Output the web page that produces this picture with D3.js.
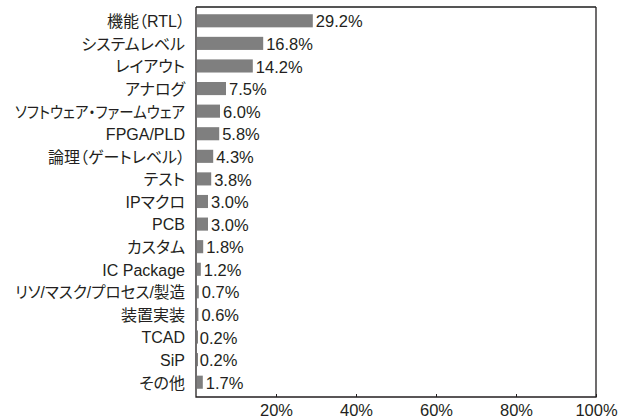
<!DOCTYPE html>
<html>
<head>
<meta charset="utf-8">
<script src="https://cdn.jsdelivr.net/npm/d3@7"></script>
<style>
  body { margin: 0; background: #fff; }
  svg text { font-family: "Liberation Sans", Arial, "Noto Sans CJK JP", sans-serif; fill: #231f20; }
  svg text.cat { font-feature-settings: "palt" 1; }
</style>
</head>
<body>
<svg id="chart" width="631" height="418"></svg>
<script>
/* Data */
var categories = ["機能（RTL）", "システムレベル", "レイアウト", "アナログ", "ソフトウェア・ファームウェア",
  "FPGA/PLD", "論理（ゲートレベル）", "テスト", "IPマクロ", "PCB", "カスタム", "IC Package",
  "リソ/マスク/プロセス/製造", "装置実装", "TCAD", "SiP", "その他"];
var values = [29.2, 16.8, 14.2, 7.5, 6.0, 5.8, 4.3, 3.8, 3.0, 3.0, 1.8, 1.2, 0.7, 0.6, 0.2, 0.2, 1.7];
var tickValues = [20, 40, 60, 80, 100];

/* Layout */
var frame = { left: 196, right: 596, top: 7, bottom: 397 };
var labelRight = 185, labelMaxWidth = 170;
var svg = d3.select("svg#chart");

var x = d3.scaleLinear().domain([0, 100]).range([frame.left, frame.right]);
var y = d3.scaleBand()
  .domain(categories)
  .range([9.5, 393.5])
  .paddingInner(0.42)
  .paddingOuter(0.21);

var data = categories.map((c, i) => ({ name: c, value: values[i] }));

/* bars */
svg.selectAll(".bar")
  .data(data)
  .enter()
  .append("rect")
  .attr("class", "bar")
  .attr("x", x(0) + 1)
  .attr("y", d => y(d.name))
  .attr("width", d => Math.max(1, x(d.value) - x(0) - 1))
  .attr("height", y.bandwidth())
  .attr("fill", "#7f7f7f");

/* value labels */
svg.selectAll(".val")
  .data(data)
  .enter()
  .append("text")
  .attr("class", "val")
  .attr("x", d => x(d.value) + 3)
  .attr("y", d => y(d.name) + y.bandwidth() / 2)
  .attr("dy", "0.4em")
  .style("font-size", "16.5px")
  .text(d => d.value.toFixed(1) + "%");

/* category labels */
svg.selectAll(".cat")
  .data(data)
  .enter()
  .append("text")
  .attr("class", "cat")
  .attr("x", labelRight)
  .attr("y", d => y(d.name) + y.bandwidth() / 2)
  .attr("dy", "0.4em")
  .attr("text-anchor", "end")
  .style("font-size", "16px")
  .text(d => d.name)
  .each(function() {
    // squeeze the long labels so they fit left of the frame
    if (this.getComputedTextLength() > labelMaxWidth) {
      d3.select(this)
        .attr("textLength", labelMaxWidth)
        .attr("lengthAdjust", "spacingAndGlyphs");
    }
  });

/* x axis: ticks point up into the plot */
var xAxis = d3.axisBottom(x)
  .tickValues(tickValues)
  .tickSize(-3)
  .tickPadding(7)
  .tickFormat(d => d + "%");

var gx = svg.append("g")
  .attr("transform", `translate(0, ${frame.bottom})`)
  .call(xAxis);
gx.select(".domain").remove();
gx.selectAll(".tick line").attr("stroke", "#231f20");
gx.selectAll(".tick text")
  .style("font-size", "16.5px")
  .style("font-family", "'Liberation Sans', Arial, sans-serif")
  .attr("fill", "#231f20");

/* frame */
svg.append("line")
  .attr("x1", frame.left).attr("x2", frame.right)
  .attr("y1", frame.top).attr("y2", frame.top)
  .attr("stroke", "#555").attr("stroke-width", 2);
svg.append("path")
  .attr("d", `M${frame.left},${frame.top}V${frame.bottom}H${frame.right}V${frame.top}`)
  .attr("fill", "none")
  .attr("stroke", "#231f20")
  .attr("stroke-width", 1.3);
</script>
</body>
</html>
